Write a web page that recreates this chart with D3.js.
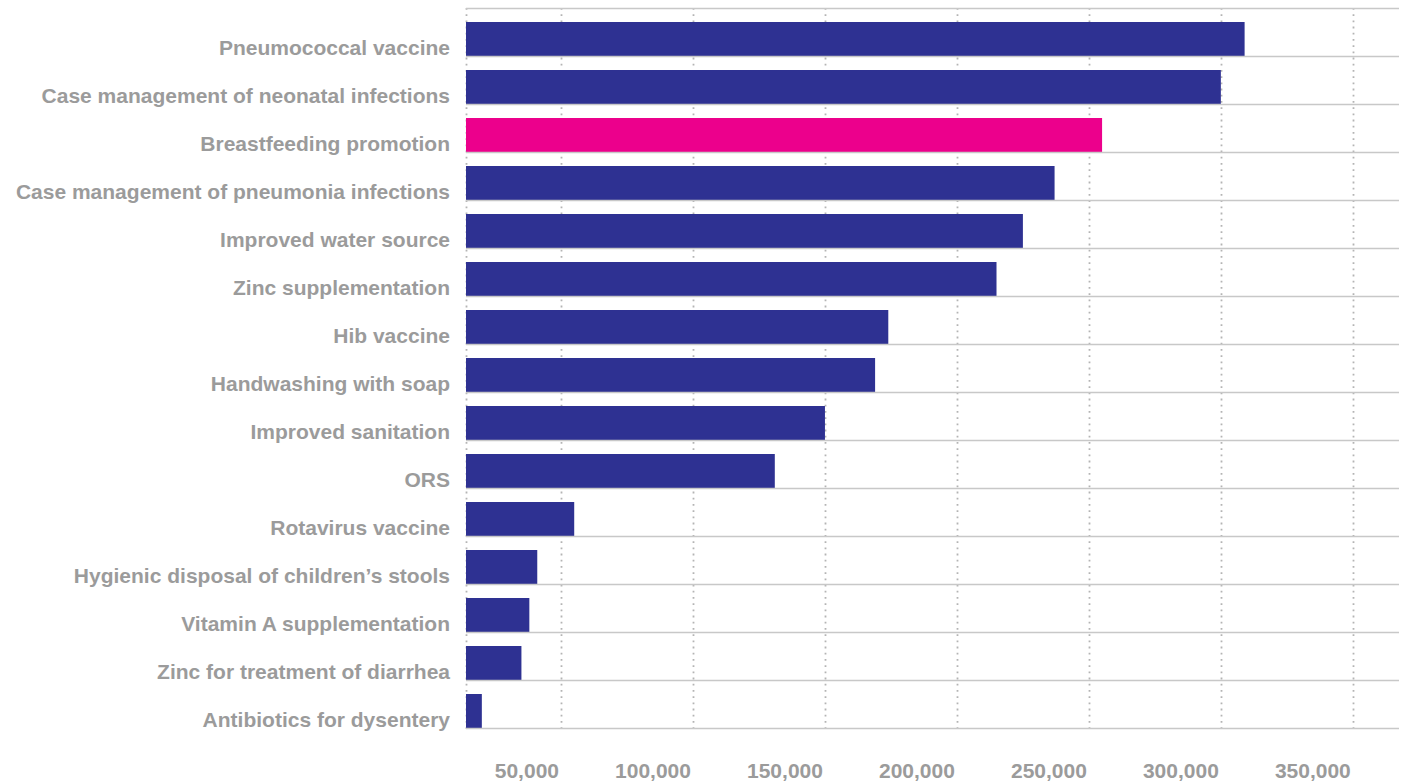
<!DOCTYPE html>
<html lang="en">
<head>
<meta charset="UTF-8">
<title>Interventions</title>
<script src="https://d3js.org/d3.v7.min.js"></script>
<style>
  html, body { margin: 0; padding: 0; background: #fff; }
  svg { display: block; font-family: "Liberation Sans", Arial, sans-serif; }
  .lbl, .tick-lbl { fill: #9b9b9b; font-weight: bold; }
</style>
</head>
<body>
<div id="chart"></div>
<script>
var categories = [
  "Pneumococcal vaccine",
  "Case management of neonatal infections",
  "Breastfeeding promotion",
  "Case management of pneumonia infections",
  "Improved water source",
  "Zinc supplementation",
  "Hib vaccine",
  "Handwashing with soap",
  "Improved sanitation",
  "ORS",
  "Rotavirus vaccine",
  "Hygienic disposal of children\u2019s stools",
  "Vitamin A supplementation",
  "Zinc for treatment of diarrhea",
  "Antibiotics for dysentery"
];
var values = [309000, 300000, 255000, 237000, 225000, 215000, 174000, 169000,
              150000, 131000, 55000, 41000, 38000, 35000, 20000];
var highlight = ["Breastfeeding promotion"];
var tickValues = [50000, 100000, 150000, 200000, 250000, 300000, 350000];

var W = 1404, H = 782;
var plotLeft = 466, plotRight = 1399, plotTop = 8, plotBottom = 728;
var barH = 34;

var svg = d3.select("#chart").append("svg")
    .attr("width", W)
    .attr("height", H);

var x = d3.scaleLinear()
    .domain([14000, 367500])
    .range([plotLeft, plotRight]);

var y = d3.scaleBand()
    .domain(categories)
    .range([plotTop, plotBottom])
    .padding(0);

var x0 = x(x.domain()[0]);

// dotted vertical gridlines (incl. left edge)
svg.append("g").selectAll("line")
    .data([x.domain()[0]].concat(tickValues))
    .enter().append("line")
    .attr("x1", d => Math.round(x(d)) + 0.5)
    .attr("x2", d => Math.round(x(d)) + 0.5)
    .attr("y1", plotTop)
    .attr("y2", plotBottom + 4)
    .attr("stroke", "#b4b4b4")
    .attr("stroke-width", 1.8)
    .attr("stroke-dasharray", "1.8,4.4");

// bars
svg.append("g").selectAll("rect")
    .data(categories)
    .enter().append("rect")
    .attr("x", x0)
    .attr("y", d => y(d) + y.bandwidth() - barH)
    .attr("width", (d, i) => x(values[i]) - x0)
    .attr("height", barH)
    .attr("fill", d => highlight.indexOf(d) >= 0 ? "#ec008c" : "#2e3192");

// horizontal separator lines
var seps = [plotTop].concat(categories.map(d => y(d) + y.bandwidth()));
svg.append("g").selectAll("line")
    .data(seps)
    .enter().append("line")
    .attr("x1", plotLeft)
    .attr("x2", plotRight)
    .attr("y1", d => d + 0.5)
    .attr("y2", d => d + 0.5)
    .attr("stroke", "#c8c8c8")
    .attr("stroke-width", 1.5);

// category labels
svg.append("g").selectAll("text")
    .data(categories)
    .enter().append("text")
    .attr("class", "lbl")
    .attr("x", 450)
    .attr("y", d => y(d) + y.bandwidth() - 1.5)
    .attr("text-anchor", "end")
    .style("font-size", "21px")
    .text(d => d);

// x tick labels, right-aligned to gridlines
svg.append("g").selectAll("text")
    .data(tickValues)
    .enter().append("text")
    .attr("class", "tick-lbl")
    .attr("x", d => x(d) - 2)
    .attr("y", 778)
    .attr("text-anchor", "end")
    .style("font-size", "21px")
    .text(d => d3.format(",")(d));
</script>
</body>
</html>
